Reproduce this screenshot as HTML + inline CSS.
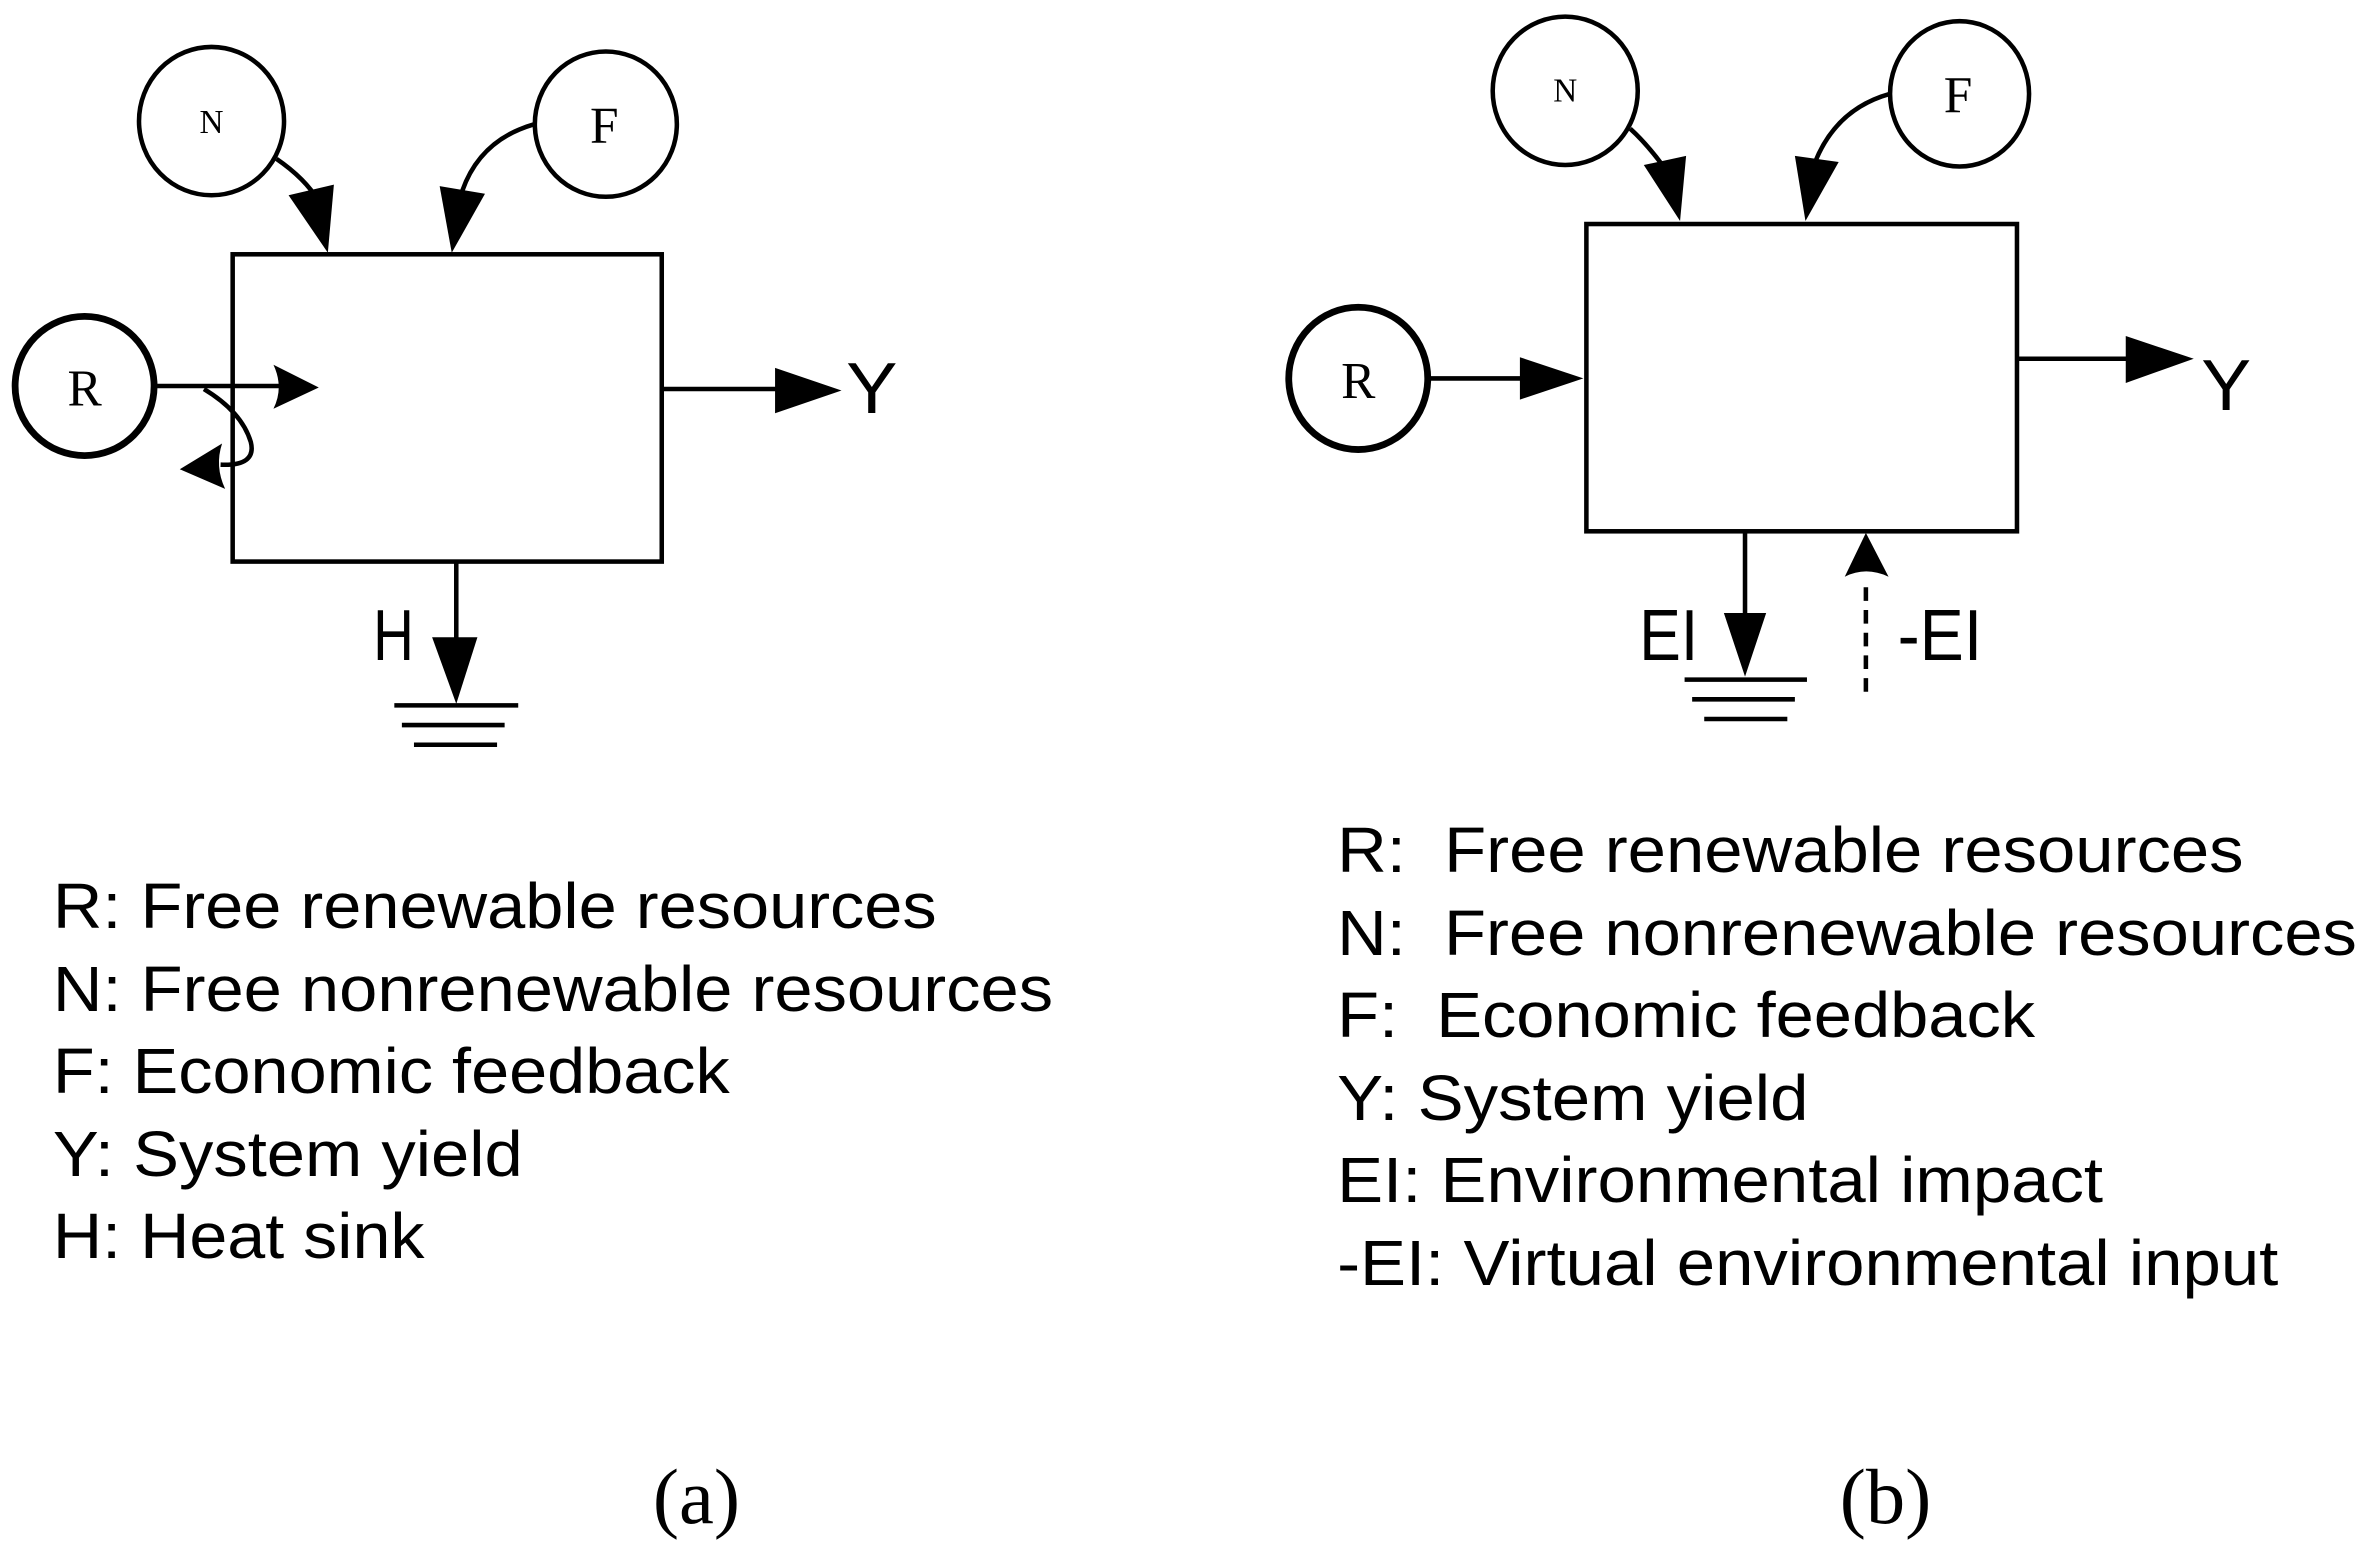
<!DOCTYPE html>
<html><head><meta charset="utf-8"><style>html,body{margin:0;padding:0;background:#fff}svg{display:block}</style></head>
<body>
<svg width="2369" height="1550" viewBox="0 0 1568 1024" preserveAspectRatio="none" xmlns="http://www.w3.org/2000/svg">
<rect width="1568" height="1024" fill="#fff"/>
<g stroke="#000" fill="none" stroke-width="3">
<!-- left -->
<ellipse cx="140" cy="80" rx="48" ry="49"/>
<ellipse cx="401" cy="82" rx="47" ry="48"/>
<ellipse cx="56" cy="255" rx="46" ry="46" stroke-width="4.5"/>
<rect x="154" y="168" width="284" height="203"/>
<path d="M183,105 Q202,118 211,133"/>
<path d="M354,82 Q318,92 306,126"/>
<path d="M104,255 H185"/>
<path d="M135,257 Q160,272 166,292 Q170,308 146,307"/>
<path d="M439,257 H515"/>
<path d="M302,371 V425"/>
<path d="M261,466 H343 M266,479 H334 M274,492 H329"/>
<!-- right -->
<ellipse cx="1036" cy="60" rx="48" ry="49"/>
<ellipse cx="1297" cy="62" rx="46" ry="48"/>
<ellipse cx="899" cy="250" rx="46" ry="47" stroke-width="4.5"/>
<rect x="1050" y="148" width="285" height="203"/>
<path d="M1079,85 Q1090,95 1101,110"/>
<path d="M1251,62 Q1215,72 1201,108"/>
<path d="M946,250 H1010"/>
<path d="M1335,237 H1410"/>
<path d="M1155,351 V408"/>
<path d="M1115,449 H1196 M1120,462 H1188 M1128,475 H1183"/>
<path d="M1235,457 V382" stroke-dasharray="9,6"/>
</g>
<g fill="#000">
<polygon points="191,129 221,122 217,167"/>
<polygon points="291,123 321,128 299,167"/>
<path d="M181,241 L211,256 L181,270 Q188,256 181,241Z"/>
<path d="M119,310 L147,293 Q142,308 149,323Z"/>
<polygon points="513,243 557,258 513,273"/>
<polygon points="286,421 316,421 302,465"/>
<polygon points="1088,109 1116,103 1112,146"/>
<polygon points="1188,103 1217,107 1195,146"/>
<polygon points="1006,236 1048,250 1006,264"/>
<polygon points="1407,222 1452,237 1407,253"/>
<polygon points="1141,405 1169,405 1155,447"/>
<path d="M1221,381 L1235,352 L1250,381 Q1235,374 1221,381Z"/>
</g>
<g font-family="Liberation Serif, serif" fill="#000" text-anchor="middle">
<text x="140" y="88" font-size="22">N</text>
<text x="400" y="94" font-size="34">F</text>
<text x="56" y="268" font-size="34">R</text>
<text x="1036" y="67" font-size="22">N</text>
<text x="1296" y="74" font-size="34">F</text>
<text x="899" y="263" font-size="34">R</text>
<text x="461" y="1006" font-size="52">(a)</text>
<text x="1248" y="1006" font-size="52">(b)</text>
</g>
<g font-family="Liberation Sans, sans-serif" fill="#000" font-size="48">
<text x="560" y="273" textLength="34" lengthAdjust="spacingAndGlyphs">Y</text>
<text x="247" y="436" textLength="27" lengthAdjust="spacingAndGlyphs">H</text>
<text x="1457" y="271" textLength="33" lengthAdjust="spacingAndGlyphs">Y</text>
<text x="1085" y="436" textLength="39" lengthAdjust="spacingAndGlyphs">EI</text>
<text x="1256" y="436" textLength="56" lengthAdjust="spacingAndGlyphs">-EI</text>
</g>
<g font-family="Liberation Sans, sans-serif" fill="#000" font-size="42">
<text x="35" y="613" textLength="585" lengthAdjust="spacingAndGlyphs">R: Free renewable resources</text>
<text x="35" y="668" textLength="662" lengthAdjust="spacingAndGlyphs">N: Free nonrenewable resources</text>
<text x="35" y="722" textLength="448" lengthAdjust="spacingAndGlyphs">F: Economic feedback</text>
<text x="35" y="777" textLength="311" lengthAdjust="spacingAndGlyphs">Y: System yield</text>
<text x="35" y="831" textLength="246" lengthAdjust="spacingAndGlyphs">H: Heat sink</text>
<text x="885" y="576" textLength="600" lengthAdjust="spacingAndGlyphs" xml:space="preserve">R:  Free renewable resources</text>
<text x="885" y="631" textLength="675" lengthAdjust="spacingAndGlyphs" xml:space="preserve">N:  Free nonrenewable resources</text>
<text x="885" y="685" textLength="462" lengthAdjust="spacingAndGlyphs" xml:space="preserve">F:  Economic feedback</text>
<text x="885" y="740" textLength="312" lengthAdjust="spacingAndGlyphs">Y: System yield</text>
<text x="885" y="794" textLength="507" lengthAdjust="spacingAndGlyphs">EI: Environmental impact</text>
<text x="885" y="849" textLength="623" lengthAdjust="spacingAndGlyphs">-EI: Virtual environmental input</text>
</g>
</svg>
</body></html>
